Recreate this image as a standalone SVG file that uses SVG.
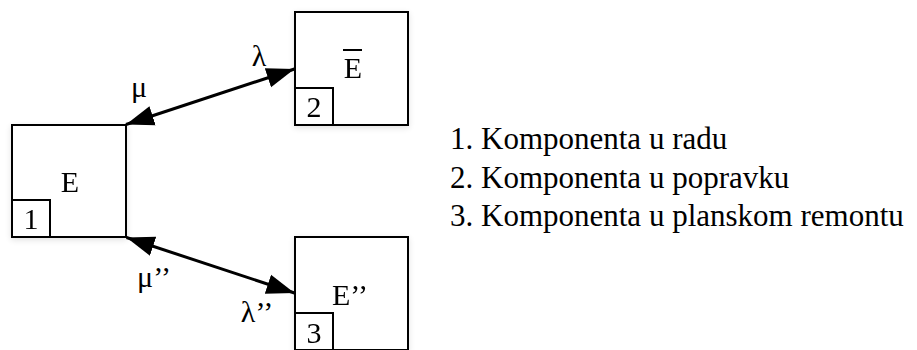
<svg xmlns="http://www.w3.org/2000/svg" width="917" height="350" viewBox="0 0 917 350">
<style>
.box{fill:#fff;stroke:#000;stroke-width:2}
.sub{fill:none;stroke:#000;stroke-width:2}
.conn{stroke:#000;stroke-width:3;fill:none}
</style>
<defs>
<filter id="sh" x="-20%" y="-20%" width="140%" height="140%">
<feGaussianBlur in="SourceAlpha" stdDeviation="3"/>
<feOffset dx="0" dy="2"/>
<feComponentTransfer><feFuncA type="linear" slope="0.12"/></feComponentTransfer>
<feMerge><feMergeNode/><feMergeNode in="SourceGraphic"/></feMerge>
</filter>
<marker id="ah" markerUnits="userSpaceOnUse" markerWidth="30" markerHeight="24" viewBox="0 0 30 24" refX="28" refY="12" orient="auto-start-reverse">
<path d="M0,2 L28,12 L0,22 Z" fill="#000"/>
</marker>
</defs>
<rect width="917" height="350" fill="#fff"/>
<g font-family="Liberation Serif" font-size="30" fill="#000">
<g id="node1" filter="url(#sh)">
<rect class="box" x="12" y="125" width="114" height="112"/>
<rect class="sub" x="12" y="200" width="38" height="37"/>
<text x="70" y="192" text-anchor="middle">E</text>
<text x="31" y="229" text-anchor="middle">1</text>
</g>
<g id="node2" filter="url(#sh)">
<rect class="box" x="295" y="12" width="113" height="113"/>
<rect class="sub" x="295" y="88" width="38" height="37"/>
<text x="353" y="78" text-anchor="middle">E</text>
<line x1="343" y1="50" x2="362" y2="50" stroke="#000" stroke-width="2"/>
<text x="314" y="117" text-anchor="middle">2</text>
</g>
<g id="node3" filter="url(#sh)">
<rect class="box" x="295" y="237" width="113" height="113"/>
<rect class="sub" x="295" y="313" width="38" height="37"/>
<text x="350" y="305" text-anchor="middle">E’’</text>
<text x="314" y="343" text-anchor="middle">3</text>
</g>
<g id="connectors">
<line class="conn" x1="126" y1="124.5" x2="294.5" y2="69" marker-start="url(#ah)" marker-end="url(#ah)"/>
<line class="conn" x1="126.5" y1="237.5" x2="294.5" y2="293" marker-start="url(#ah)" marker-end="url(#ah)"/>
<text x="139" y="97" text-anchor="middle">μ</text>
<text x="259" y="66" text-anchor="middle">λ</text>
<text x="154" y="287" text-anchor="middle">μ’’</text>
<text x="257" y="322" text-anchor="middle">λ’’</text>
</g>
<g id="legend" font-size="31">
<text x="450" y="149">1. Komponenta u radu</text>
<text x="450" y="187.5">2. Komponenta u popravku</text>
<text x="450" y="226">3. Komponenta u planskom remontu</text>
</g>
</g>
</svg>
